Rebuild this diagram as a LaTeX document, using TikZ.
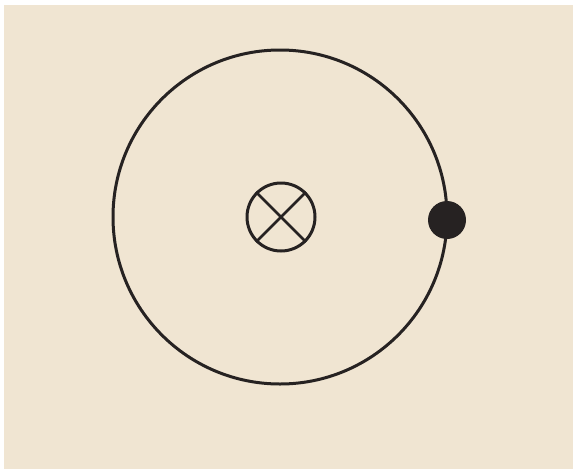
\documentclass[tikz,border=0pt]{standalone}
\definecolor{paper}{RGB}{240,229,210}
\definecolor{ink}{RGB}{38,34,34}
\begin{document}
\begin{tikzpicture}[x=1pt,y=-1pt,
  orbit/.style={draw=ink,line width=3pt},
  nucleus/.style={circle,draw=ink,line width=3pt,minimum size=68pt,inner sep=0pt},
  electron/.style={circle,fill=ink,minimum size=38pt,inner sep=0pt}]
\useasboundingbox (0,0) rectangle (576,472);
\fill[white] (0,0) rectangle (576,472);
\fill[paper] (4,5) rectangle (573,469);
\draw[orbit] (280,217) circle (167);
\node[nucleus] (n) at (281,217) {};
\draw[ink,line width=2.8pt] (n.north west) -- (n.south east);
\draw[ink,line width=2.8pt] (n.north east) -- (n.south west);
\node[electron] (e) at (447,220) {};
\end{tikzpicture}
\end{document}
